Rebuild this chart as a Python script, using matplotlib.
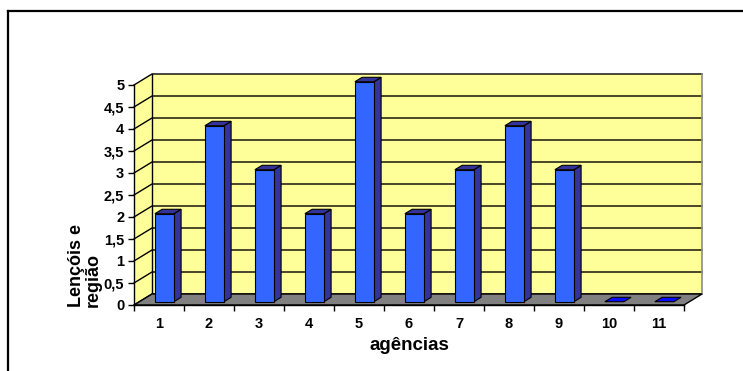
import matplotlib
matplotlib.use("Agg")
import matplotlib.pyplot as plt
from matplotlib.patches import Polygon
from matplotlib.lines import Line2D
from matplotlib.ticker import FuncFormatter, MultipleLocator, FixedLocator

# Data
agencias = ["1", "2", "3", "4", "5", "6", "7", "8", "9", "10", "11"]
valores = [2, 4, 3, 2, 5, 2, 3, 4, 3, 0, 0]
y_max = 5
y_step = 0.5

# Pseudo-3D geometry (in data units)
DX = 0.36      # horizontal shift of the back plane, in categories
DY = 0.25      # vertical shift of the back plane, in value units
BAR_W = 0.38   # bar width, in categories
Z0, Z1 = 0.3, 0.7  # bar front/back depth fractions

WALL = "#FFFF99"
FLOOR = "#808080"
FRONT = "#3366FF"
SIDE = "#333399"
FLAT = "#0A0AFF"

plt.rcParams["font.family"] = ["Liberation Sans", "DejaVu Sans"]
plt.rcParams["font.weight"] = "bold"

W, H = 743, 371
fig = plt.figure(figsize=(W / 100, H / 100), dpi=100)
fig.patch.set_facecolor("white")

ax = fig.add_axes([134 / W, 66 / H, 550 / W, 220 / H])
n = len(agencias)
ax.set_xlim(0, n)
ax.set_ylim(0, y_max)
ax.patch.set_visible(False)
for s in ("top", "right"):
    ax.spines[s].set_visible(False)
for s in ("left", "bottom"):
    ax.spines[s].set_linewidth(1.0)
    ax.spines[s].set_zorder(6)

kw = dict(clip_on=False)

# Back wall and side wall
ax.add_patch(Polygon([(DX, DY), (n + DX, DY), (n + DX, y_max + DY), (DX, y_max + DY)],
                     closed=True, facecolor=WALL, edgecolor="none", zorder=1, **kw))
ax.add_patch(Polygon([(0, 0), (DX, DY), (DX, y_max + DY), (0, y_max)],
                     closed=True, facecolor=WALL, edgecolor="none", zorder=1, **kw))

# Gridlines on both walls
k = 0
while k * y_step <= y_max + 1e-9:
    v = k * y_step
    ax.add_line(Line2D([0, DX, n + DX], [v, v + DY, v + DY], color="black", lw=1.0, zorder=2, **kw))
    k += 1
ax.add_line(Line2D([DX, DX], [DY, y_max + DY], color="black", lw=1.0, zorder=2, **kw))
ax.add_line(Line2D([n + DX, n + DX], [DY, y_max + DY], color="#8c8c8c", lw=1.2, zorder=2, **kw))

# Floor
ax.add_patch(Polygon([(0, 0), (n, 0), (n + DX, DY), (DX, DY)],
                     closed=True, facecolor=FLOOR, edgecolor="black", lw=1.0, zorder=3, **kw))

# Bars
for i, v in enumerate(valores):
    xl = i + 0.5 - BAR_W / 2
    xr = i + 0.5 + BAR_W / 2
    fl = (xl + Z0 * DX, Z0 * DY)
    fr = (xr + Z0 * DX, Z0 * DY)
    br = (xr + Z1 * DX, Z1 * DY)
    top = [(xl + Z0 * DX, v + Z0 * DY), (xr + Z0 * DX, v + Z0 * DY),
           (xr + Z1 * DX, v + Z1 * DY), (xl + Z1 * DX, v + Z1 * DY)]
    if v == 0:
        ax.add_patch(Polygon(top, closed=True, facecolor=FLAT, edgecolor="black",
                             lw=0.8, zorder=4, **kw))
        continue
    ax.add_patch(Polygon([fr, br, (br[0], v + Z1 * DY), (fr[0], v + Z0 * DY)], closed=True,
                         facecolor=SIDE, edgecolor="black", lw=0.8, zorder=4, **kw))
    ax.add_patch(Polygon(top, closed=True, facecolor=SIDE, edgecolor="black",
                         lw=0.8, zorder=4, **kw))
    ax.add_patch(Polygon([fl, fr, (fr[0], v + Z0 * DY), (fl[0], v + Z0 * DY)], closed=True,
                         facecolor=FRONT, edgecolor="black", lw=0.8, zorder=5, **kw))

# Axes ticks
ax.yaxis.set_major_locator(MultipleLocator(y_step))
ax.yaxis.set_major_formatter(FuncFormatter(
    lambda v, p: (f"{v:g}").replace(".", ",")))
ax.tick_params(axis="y", direction="out", length=4, width=1, pad=3, labelsize=10.5)

ax.xaxis.set_major_locator(FixedLocator(range(n + 1)))
ax.xaxis.set_major_formatter(FuncFormatter(lambda v, p: ""))
ax.xaxis.set_minor_locator(FixedLocator([i + 0.5 for i in range(n)]))
ax.set_xticklabels(agencias, minor=True)
ax.tick_params(axis="x", which="major", direction="out", length=4, width=1)
ax.tick_params(axis="x", which="minor", length=0, pad=9, labelsize=10.5)
for lab in ax.get_yticklabels() + ax.get_xticklabels(minor=True):
    lab.set_fontweight("bold")

ax.set_xlabel("agências", fontsize=13.5, fontweight="bold", labelpad=4)

fig.text(85 / W, 1 - 307 / H, "Lençóis e\nregião", rotation=90, ha="center", va="bottom",
         multialignment="left", fontsize=13, fontweight="bold", linespacing=0.95)

# Chart-area border
fig.add_artist(Line2D([8 / W, 8 / W], [0, 1 - 11 / H], color="black", lw=1.6,
                      transform=fig.transFigure))
fig.add_artist(Line2D([8 / W, 1], [1 - 11 / H, 1 - 11 / H], color="black", lw=1.6,
                      transform=fig.transFigure))

fig.savefig("out.png", dpi=100)
